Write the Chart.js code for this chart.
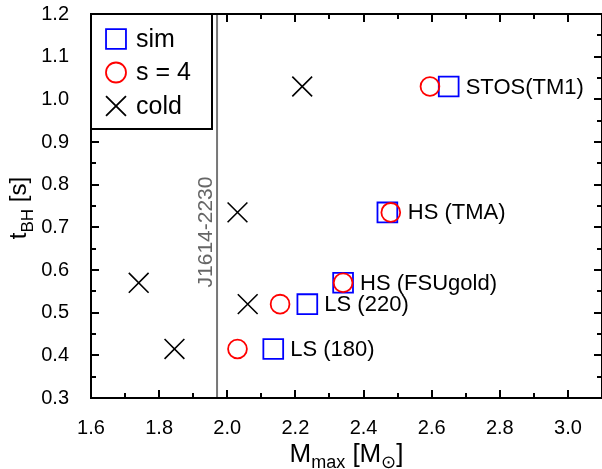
<!DOCTYPE html>
<html>
<head>
<meta charset="utf-8">
<script src="https://cdn.jsdelivr.net/npm/chart.js@4.4.1/dist/chart.umd.min.js"></script>
<style>
    html, body { margin: 0; padding: 0; background: #fff; overflow: hidden; }
    canvas { display: block; }
</style>
</head>
<body>
<canvas id="chart" width="602" height="469"></canvas>
<script>
// values
const modelNames = ["STOS(TM1)", "HS (TMA)", "HS (FSUgold)", "LS (220)", "LS (180)"];
const simMass = [2.65, 2.47, 2.34, 2.235, 2.135];
const simTime = [1.03, 0.735, 0.57, 0.52, 0.415];
const s4Mass = [2.595, 2.48, 2.34, 2.155, 2.03];
const s4Time = [1.03, 0.735, 0.57, 0.52, 0.415];
const coldMass = [2.22, 2.03, 1.74, 2.06, 1.845];
const coldTime = [1.03, 0.735, 0.57, 0.52, 0.415];

const pulsarName = "J1614-2230";
const pulsarMass = 1.97;

const xTicks = [1.6, 1.8, 2.0, 2.2, 2.4, 2.6, 2.8, 3.0];
const xMinorTicks = [1.7, 1.9, 2.1, 2.3, 2.5, 2.7, 2.9];
const yTicks = [0.3, 0.4, 0.5, 0.6, 0.7, 0.8, 0.9, 1.0, 1.1, 1.2];
const yMinorTicks = [0.35, 0.45, 0.55, 0.65, 0.75, 0.85, 0.95, 1.05, 1.15];

const FONT = "'Liberation Sans', Arial, Helvetica, sans-serif";

function points(xs, ys) {
    return xs.map((x, i) => ({ x: x, y: ys[i] }));
}

// frame, inward ticks, labels, legend box and axis titles
const decorPlugin = {
    id: "decor",
    afterDraw(chart) {
        const ctx = chart.ctx;
        const area = chart.chartArea;
        const xs = chart.scales.x;
        const ys = chart.scales.y;

        ctx.save();
        ctx.strokeStyle = "#000";
        ctx.lineWidth = 2;
        ctx.strokeRect(area.left, area.top, area.right - area.left, area.bottom - area.top);

        // inward ticks on all four sides
        ctx.lineWidth = 2;
        ctx.beginPath();
        xTicks.concat(xMinorTicks).forEach(v => {
            const len = xTicks.includes(v) ? 8 : 5;
            const px = Math.round(xs.getPixelForValue(v));
            ctx.moveTo(px, area.bottom); ctx.lineTo(px, area.bottom - len);
            ctx.moveTo(px, area.top); ctx.lineTo(px, area.top + len);
        });
        yTicks.concat(yMinorTicks).forEach(v => {
            const len = yTicks.includes(v) ? 8 : 5;
            const py = Math.round(ys.getPixelForValue(v));
            ctx.moveTo(area.left, py); ctx.lineTo(area.left + len, py);
            ctx.moveTo(area.right, py); ctx.lineTo(area.right - len, py);
        });
        ctx.stroke();

        // pulsar label
        ctx.save();
        ctx.translate(xs.getPixelForValue(pulsarMass) - 5, 232);
        ctx.rotate(-Math.PI / 2);
        ctx.fillStyle = "#666";
        ctx.font = "21px " + FONT;
        ctx.textAlign = "center";
        ctx.textBaseline = "alphabetic";
        ctx.fillText(pulsarName, 0, 0);
        ctx.restore();

        // model labels
        ctx.fillStyle = "#000";
        ctx.font = "22px " + FONT;
        ctx.textAlign = "left";
        ctx.textBaseline = "middle";
        modelNames.forEach((name, i) => {
            const px = Math.max(xs.getPixelForValue(simMass[i]), xs.getPixelForValue(s4Mass[i]));
            const py = ys.getPixelForValue(simTime[i]);
            ctx.fillText(name, px + 17, py + 1);
        });

        // legend
        const boxL = area.left, boxT = area.top, boxW = 121, boxH = 115;
        ctx.fillStyle = "#fff";
        ctx.fillRect(boxL, boxT, boxW, boxH);
        ctx.lineWidth = 2;
        ctx.strokeStyle = "#000";
        ctx.strokeRect(boxL, boxT, boxW, boxH);
        const legendSets = chart.data.datasets.filter(d => d.inLegend);
        const legendRadius = { rect: 14.1, circle: 10, crossRot: 14.1 };
        legendSets.forEach((d, i) => {
            const cy = boxT + 25 + i * 33.5;
            ctx.strokeStyle = d.borderColor;
            ctx.fillStyle = "rgba(0,0,0,0)";
            ctx.lineWidth = 1.8;
            Chart.helpers.drawPoint(ctx, {
                pointStyle: d.pointStyle,
                radius: legendRadius[d.pointStyle],
                rotation: 0,
                borderWidth: 1.8
            }, boxL + 25, cy);
            ctx.fillStyle = "#000";
            ctx.font = "25px " + FONT;
            ctx.textAlign = "left";
            ctx.textBaseline = "middle";
            ctx.fillText(d.label, boxL + 45, cy + 1);
        });

        // x title: M_max [M_sun]
        const mainFont = "26px " + FONT, subFont = "18px " + FONT;
        const xParts = [["M", mainFont, 0], ["max", subFont, 6], [" [M", mainFont, 0], ["\u2299", subFont, 6], ["]", mainFont, 0]];
        drawParts(ctx, xParts, (area.left + area.right) / 2, 462);

        // y title: t_BH [s]
        ctx.save();
        ctx.translate(26, 208);
        ctx.rotate(-Math.PI / 2);
        const yParts = [["t", "24px " + FONT, 0], ["BH", "17px " + FONT, 7], [" [s]", "24px " + FONT, 0]];
        drawParts(ctx, yParts, 0, 0);
        ctx.restore();

        ctx.restore();
    }
};

function drawParts(ctx, parts, cx, baseY) {
    ctx.textAlign = "left";
    ctx.textBaseline = "alphabetic";
    ctx.fillStyle = "#000";
    let total = 0;
    parts.forEach(p => { ctx.font = p[1]; total += ctx.measureText(p[0]).width; });
    let x = cx - total / 2;
    parts.forEach(p => {
        ctx.font = p[1];
        ctx.fillText(p[0], x, baseY + p[2]);
        x += ctx.measureText(p[0]).width;
    });
}

new Chart(document.getElementById("chart"), {
    type: "scatter",
    data: {
        datasets: [
            {
                label: "sim", inLegend: true,
                data: points(simMass, simTime),
                pointStyle: "rect", pointRadius: 14, pointHoverRadius: 14,
                borderColor: "#0000ff", backgroundColor: "rgba(0,0,0,0)", borderWidth: 1.8,
                order: 3
            },
            {
                label: "s = 4", inLegend: true,
                data: points(s4Mass, s4Time),
                pointStyle: "circle", pointRadius: 9.4, pointHoverRadius: 9.4,
                borderColor: "#ff0000", backgroundColor: "rgba(0,0,0,0)", borderWidth: 1.8,
                order: 1
            },
            {
                label: "cold", inLegend: true,
                data: points(coldMass, coldTime),
                pointStyle: "crossRot", pointRadius: 14, pointHoverRadius: 14,
                borderColor: "#000000", backgroundColor: "rgba(0,0,0,0)", borderWidth: 1.6,
                order: 2
            },
            {
                label: pulsarName, inLegend: false,
                type: "line",
                data: [{ x: pulsarMass, y: yTicks[0] }, { x: pulsarMass, y: yTicks[yTicks.length - 1] }],
                borderColor: "#777", borderWidth: 2, pointRadius: 0,
                order: 4
            }
        ]
    },
    options: {
        responsive: false,
        animation: false,
        devicePixelRatio: 1,
        layout: { autoPadding: false, padding: { left: 0, right: 0, top: 14, bottom: 0 } },
        plugins: { legend: { display: false }, tooltip: { enabled: false } },
        scales: {
            x: {
                type: "linear", min: 1.6, max: 3.1,
                grid: { display: false }, border: { display: false },
                afterBuildTicks: s => { s.ticks = xTicks.map(v => ({ value: v })); },
                afterFit: s => { s.height = 71; s.paddingLeft = 0; s.paddingRight = 0; },
                ticks: {
                    font: { family: FONT, size: 20 }, color: "#000", padding: 10,
                    maxRotation: 0, callback: v => Number(v).toFixed(1)
                }
            },
            y: {
                type: "linear", min: 0.3, max: 1.2,
                grid: { display: false }, border: { display: false },
                afterBuildTicks: s => { s.ticks = yTicks.map(v => ({ value: v })); },
                afterFit: s => { s.width = 91; s.paddingTop = 0; s.paddingBottom = 0; },
                ticks: {
                    font: { family: FONT, size: 20 }, color: "#000", padding: 14,
                    callback: v => Number(v).toFixed(1)
                }
            }
        }
    },
    plugins: [decorPlugin]
});
</script>
</body>
</html>
